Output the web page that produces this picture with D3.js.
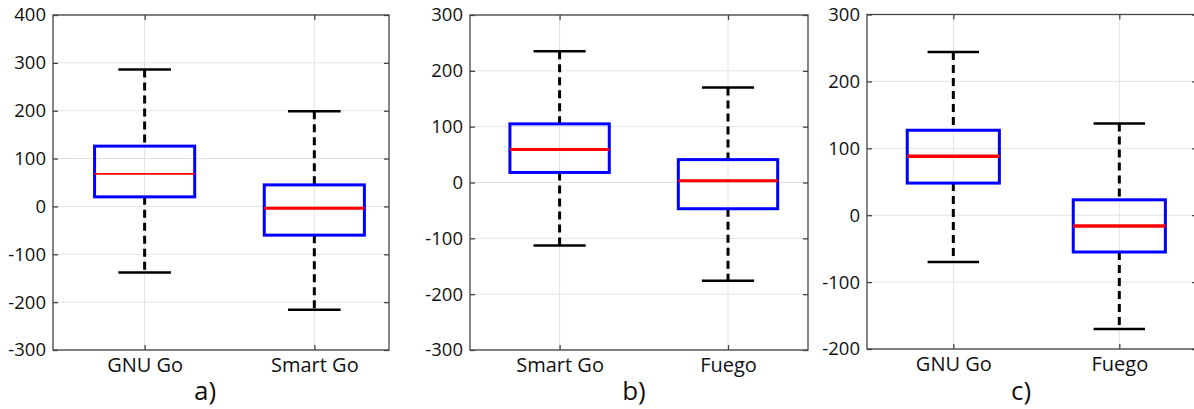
<!DOCTYPE html>
<html>
<head>
<meta charset="utf-8">
<script src="https://cdn.jsdelivr.net/npm/d3@7"></script>
<style>
  body { margin: 0; background: #fff; }
  svg { display: block; font-family: "Open Sans", sans-serif; }
</style>
</head>
<body>
<div id="chart"></div>
<script>
// box stats: [lower whisker, Q1, median, Q3, upper whisker]
var categoriesA = ["GNU Go", "Smart Go"],
    statsA = [[-138, 20, 68, 126, 286], [-216, -60, -4, 45, 199]],
    ticksA = [-300, -200, -100, 0, 100, 200, 300, 400];

var categoriesB = ["Smart Go", "Fuego"],
    statsB = [[-113, 18, 59, 105, 235], [-176, -47, 3, 41, 170]],
    ticksB = [-300, -200, -100, 0, 100, 200, 300];

var categoriesC = ["GNU Go", "Fuego"],
    statsC = [[-70, 48, 88, 127, 244], [-170, -55, -16, 23, 137]],
    ticksC = [-200, -100, 0, 100, 200, 300];

var panelLabels = ["a)", "b)", "c)"];

var W = 1194, H = 409;

var svg = d3.select("#chart").append("svg")
    .attr("width", W)
    .attr("height", H);

var panels = [
    { cats: categoriesA, stats: statsA, ticks: ticksA, label: panelLabels[0],
      left: 53, right: 389, top: 15, bottom: 350, xDomain: [0.46, 2.44],
      boxW: 0.59, medW: [1.6, 3], labelX: 205 },
    { cats: categoriesB, stats: statsB, ticks: ticksB, label: panelLabels[1],
      left: 470, right: 808, top: 15, bottom: 350, xDomain: [0.468, 2.475],
      boxW: 0.59, medW: [3, 3], labelX: 634 },
    { cats: categoriesC, stats: statsC, ticks: ticksC, label: panelLabels[2],
      left: 867, right: 1197, top: 14.5, bottom: 349, xDomain: [0.48, 2.468],
      boxW: 0.555, medW: [3.5, 3.5], labelX: 1021 }
];

function drawPanel(p) {
    var x = d3.scaleLinear().domain(p.xDomain).range([p.left, p.right]);
    var y = d3.scaleLinear().domain(d3.extent(p.ticks)).range([p.bottom, p.top]);
    var idx = p.cats.map(function (d, i) { return i + 1; });

    var g = svg.append("g");

    // grid
    g.selectAll(".hgrid").data(p.ticks).enter().append("line")
        .attr("x1", p.left).attr("x2", p.right)
        .attr("y1", function (d) { return y(d); })
        .attr("y2", function (d) { return y(d); })
        .attr("stroke", "#e3e3e3").attr("stroke-width", 1);
    g.selectAll(".vgrid").data(idx).enter().append("line")
        .attr("x1", function (d) { return x(d); })
        .attr("x2", function (d) { return x(d); })
        .attr("y1", p.top).attr("y2", p.bottom)
        .attr("stroke", "#e3e3e3").attr("stroke-width", 1);

    // axes
    var fmt = function (d) { return String(d); };
    g.append("g")
        .attr("transform", "translate(" + p.left + ",0)")
        .call(d3.axisLeft(y).tickValues(p.ticks).tickFormat(fmt).tickSizeInner(-5).tickSizeOuter(0).tickPadding(7))
        .call(styleAxis, 18.5);
    g.append("g")
        .attr("transform", "translate(" + p.right + ",0)")
        .call(d3.axisRight(y).tickValues(p.ticks).tickFormat("").tickSizeInner(-5).tickSizeOuter(0))
        .call(styleAxis, 18.5);
    g.append("g")
        .attr("transform", "translate(0," + p.bottom + ")")
        .call(d3.axisBottom(x).tickValues(idx).tickFormat(function (d) { return p.cats[d - 1]; })
            .tickSizeInner(-5).tickSizeOuter(0).tickPadding(8))
        .call(styleAxis, 20);
    g.append("g")
        .attr("transform", "translate(0," + p.top + ")")
        .call(d3.axisTop(x).tickValues(idx).tickFormat("").tickSizeInner(-5).tickSizeOuter(0))
        .call(styleAxis, 18.5);

    g.append("rect")
        .attr("x", p.left).attr("y", p.top)
        .attr("width", p.right - p.left).attr("height", p.bottom - p.top)
        .attr("fill", "none").attr("stroke", "#444").attr("stroke-width", 1.3);

    // boxes
    var bx = g.selectAll(".box").data(p.stats).enter().append("g");
    var half = p.boxW / 2, capHalf = 0.155;

    bx.append("line") // upper whisker
        .attr("x1", function (d, i) { return x(i + 1); })
        .attr("x2", function (d, i) { return x(i + 1); })
        .attr("y1", function (d) { return y(d[4]); })
        .attr("y2", function (d) { return y(d[3]); })
        .attr("stroke", "#000").attr("stroke-width", 3).attr("stroke-dasharray", "8,5");
    bx.append("line") // lower whisker
        .attr("x1", function (d, i) { return x(i + 1); })
        .attr("x2", function (d, i) { return x(i + 1); })
        .attr("y1", function (d) { return y(d[1]); })
        .attr("y2", function (d) { return y(d[0]); })
        .attr("stroke", "#000").attr("stroke-width", 3).attr("stroke-dasharray", "8,5");
    [0, 4].forEach(function (k) {
        bx.append("line")
            .attr("x1", function (d, i) { return x(i + 1 - capHalf); })
            .attr("x2", function (d, i) { return x(i + 1 + capHalf); })
            .attr("y1", function (d) { return y(d[k]); })
            .attr("y2", function (d) { return y(d[k]); })
            .attr("stroke", "#000").attr("stroke-width", 2.5);
    });
    bx.append("rect")
        .attr("x", function (d, i) { return x(i + 1 - half); })
        .attr("width", function (d, i) { return x(i + 1 + half) - x(i + 1 - half); })
        .attr("y", function (d) { return y(d[3]); })
        .attr("height", function (d) { return y(d[1]) - y(d[3]); })
        .attr("fill", "none").attr("stroke", "#0000ff").attr("stroke-width", 3);
    bx.append("line")
        .attr("x1", function (d, i) { return x(i + 1 - half); })
        .attr("x2", function (d, i) { return x(i + 1 + half); })
        .attr("y1", function (d) { return y(d[2]); })
        .attr("y2", function (d) { return y(d[2]); })
        .attr("stroke", "#ff0000")
        .attr("stroke-width", function (d, i) { return p.medW[i]; });

    // panel letter
    svg.append("text")
        .attr("x", p.labelX)
        .attr("y", 400)
        .attr("text-anchor", "middle")
        .attr("font-size", 26)
        .attr("fill", "#111")
        .text(p.label);
}

function styleAxis(sel, fs) {
    sel.select(".domain").remove();
    sel.selectAll(".tick line").attr("stroke", "#444").attr("stroke-width", 1.3);
    sel.selectAll(".tick text").attr("font-size", fs).attr("fill", "#111")
        .attr("font-family", "'Open Sans', sans-serif");
}

panels.forEach(drawPanel);
</script>
</body>
</html>
